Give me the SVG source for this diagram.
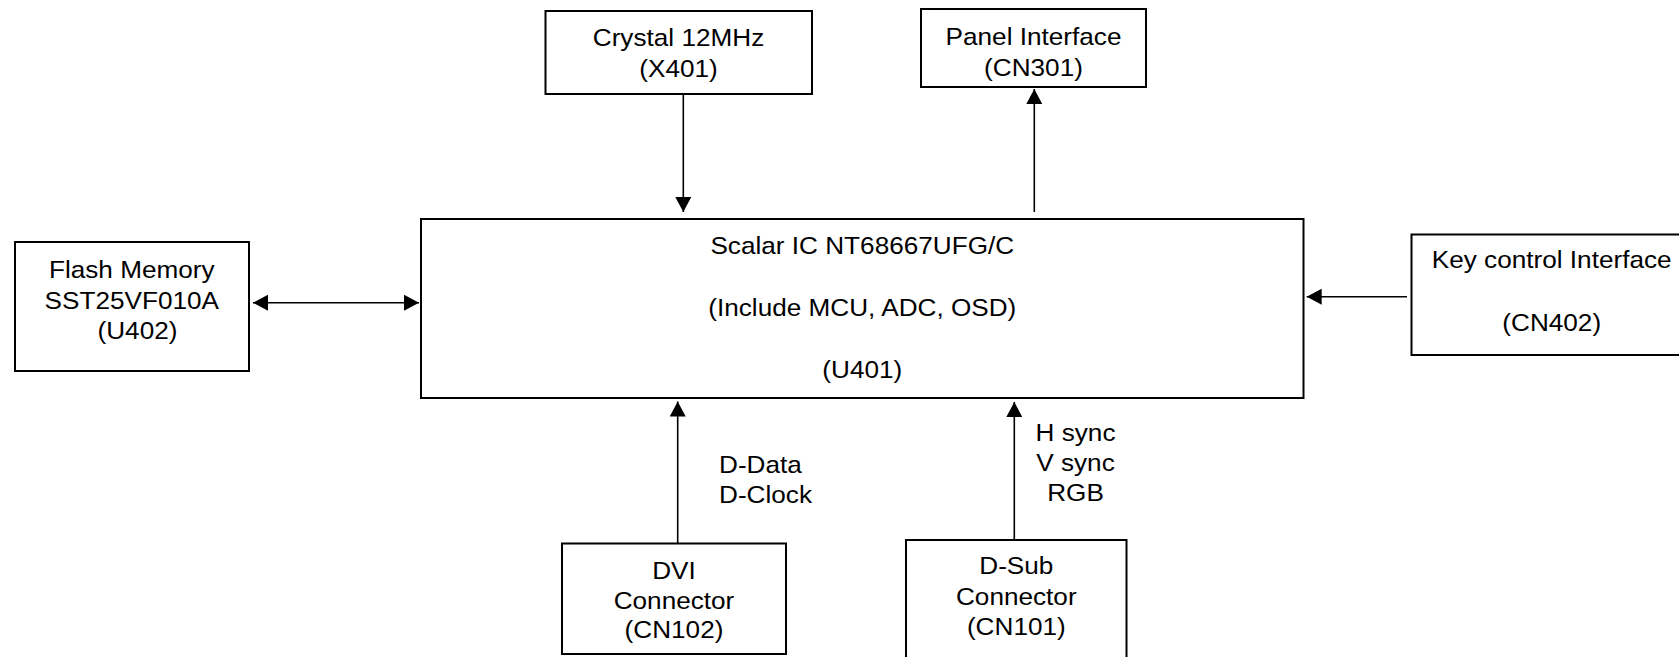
<svg xmlns="http://www.w3.org/2000/svg" width="1679" height="657" viewBox="0 0 1679 657">
  <style>
    .box { fill: #ffffff; stroke: #000000; stroke-width: 2; }
    .t { font-family: "Liberation Sans", Arial, sans-serif; font-size: 24px; fill: #000000; text-anchor: middle; }
    .ts { text-anchor: start; }
    .wire { stroke: #000000; stroke-width: 1.6; fill: none; marker-end: url(#arrow); }
    .wire2 { stroke: #000000; stroke-width: 1.6; fill: none; marker-end: url(#arrow); marker-start: url(#arrow); }
  </style>
  <defs>
    <marker id="arrow" markerUnits="userSpaceOnUse" markerWidth="16" markerHeight="16" viewBox="0 0 15 16" refX="15" refY="8" orient="auto-start-reverse">
      <path d="M0,0 L15,8 L0,16 z" fill="#000000"/>
    </marker>
  </defs>
  <rect x="0" y="0" width="1679" height="657" fill="#ffffff"/>

  <g id="crystal">
    <rect class="box" x="545.5" y="11" width="266.5" height="83"/>
    <g transform="translate(678.5 0) scale(1.09 1)">
      <text class="t" x="0" y="46">Crystal 12MHz</text>
      <text class="t" x="0" y="77">(X401)</text>
    </g>
  </g>

  <g id="panel">
    <rect class="box" x="921" y="9" width="225" height="78"/>
    <g transform="translate(1033.5 0) scale(1.09 1)">
      <text class="t" x="0" y="45">Panel Interface</text>
      <text class="t" x="0" y="76">(CN301)</text>
    </g>
  </g>

  <g id="scalar">
    <rect class="box" x="421" y="219" width="882.5" height="179"/>
    <g transform="translate(862.3 0) scale(1.09 1)">
      <text class="t" x="0" y="254.5">Scalar IC NT68667UFG/C</text>
      <text class="t" x="0" y="316.5">(Include MCU, ADC, OSD)</text>
      <text class="t" x="0" y="378.5">(U401)</text>
    </g>
  </g>

  <g id="flash">
    <rect class="box" x="15" y="242" width="234" height="129"/>
    <g transform="translate(131.8 0) scale(1.09 1)">
      <text class="t" x="0" y="278">Flash Memory</text>
      <text class="t" x="0" y="309.5">SST25VF010A</text>
      <text class="t" x="5.2" y="339.5">(U402)</text>
    </g>
  </g>

  <g id="key">
    <rect class="box" x="1411.5" y="234.5" width="290" height="120.5"/>
    <g transform="translate(1551.7 0) scale(1.09 1)">
      <text class="t" x="0" y="268">Key control Interface</text>
      <text class="t" x="0" y="331.5">(CN402)</text>
    </g>
  </g>

  <g id="dvi">
    <rect class="box" x="562" y="543.5" width="224" height="110.5"/>
    <g transform="translate(674 0) scale(1.09 1)">
      <text class="t" x="0" y="579.5">DVI</text>
      <text class="t" x="0" y="609.5">Connector</text>
      <text class="t" x="0" y="638">(CN102)</text>
    </g>
  </g>

  <g id="dsub">
    <rect class="box" x="906" y="540" width="220.5" height="140"/>
    <g transform="translate(1016.3 0) scale(1.09 1)">
      <text class="t" x="0" y="574.5">D-Sub</text>
      <text class="t" x="0" y="605">Connector</text>
      <text class="t" x="0" y="635">(CN101)</text>
    </g>
  </g>

  <g id="connectors">
    <line class="wire" x1="683.3" y1="94" x2="683.3" y2="212"/>
    <line class="wire" x1="1034.3" y1="212" x2="1034.3" y2="89"/>
    <line class="wire2" x1="253" y1="302.7" x2="419" y2="302.7"/>
    <line class="wire" x1="1407" y1="296.7" x2="1306.7" y2="296.7"/>
    <line class="wire" x1="677.7" y1="543.5" x2="677.7" y2="401.5"/>
    <line class="wire" x1="1014.3" y1="540" x2="1014.3" y2="402"/>
    <g transform="translate(719 0) scale(1.09 1)">
      <text class="t ts" x="0" y="473.5">D-Data</text>
      <text class="t ts" x="0" y="503.5">D-Clock</text>
    </g>
    <g transform="translate(1075.5 0) scale(1.09 1)">
      <text class="t" x="0" y="441">H sync</text>
      <text class="t" x="0" y="471">V sync</text>
      <text class="t" x="0" y="501">RGB</text>
    </g>
  </g>
</svg>
